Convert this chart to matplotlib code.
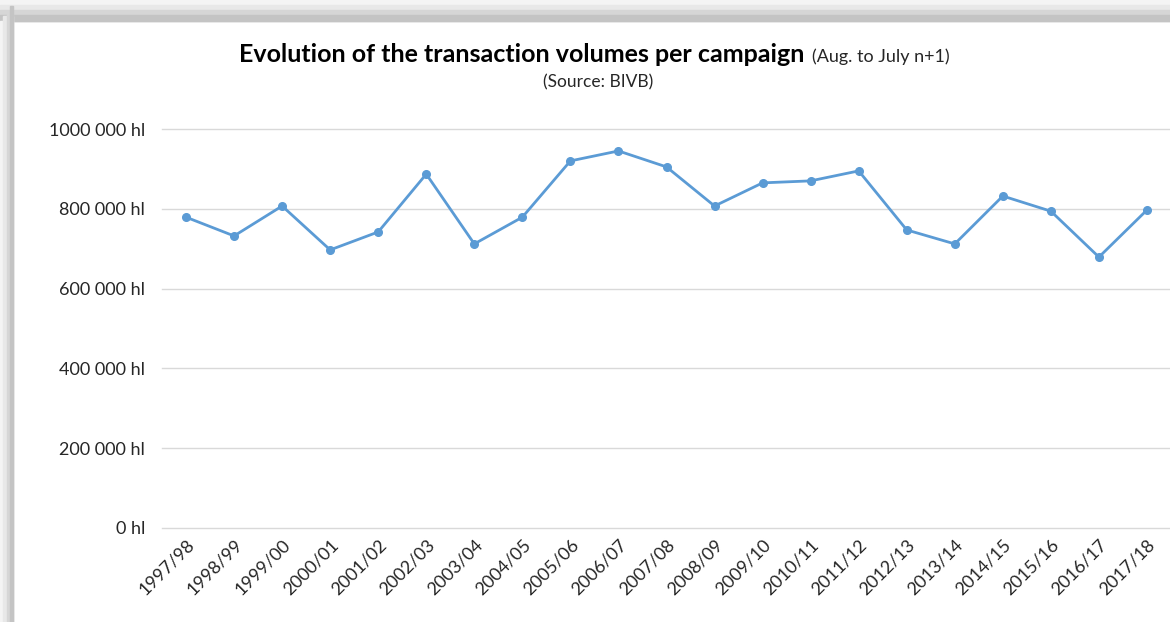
import numpy as np
import matplotlib.pyplot as plt
from matplotlib.patches import Rectangle
from matplotlib.ticker import FuncFormatter

# ----------------------------------------------------------------------------------
# Data
# ----------------------------------------------------------------------------------
campaigns = ['1997/98', '1998/99', '1999/00', '2000/01', '2001/02', '2002/03',
             '2003/04', '2004/05', '2005/06', '2006/07', '2007/08', '2008/09',
             '2009/10', '2010/11', '2011/12', '2012/13', '2013/14', '2014/15',
             '2015/16', '2016/17', '2017/18']
volumes_hl = [779000, 732000, 807000, 697000, 742000, 887000,
              712000, 779000, 920000, 945000, 905000, 807000,
              865000, 870000, 895000, 747000, 712000, 832000,
              794000, 679000, 797000]
y_ticks = [0, 200000, 400000, 600000, 800000, 1000000]

plt.rcParams['font.family'] = ['Lato', 'DejaVu Sans']

fig = plt.figure(figsize=(11.7, 6.22), dpi=100)
W, H = 1170, 622

# grey shadow frame on top and left
shades = ['#f4f4f4', '#e8e8e8', '#d6d6d6', '#c4c4c4']
for i, c in enumerate(shades):
    fig.patches.append(Rectangle((0, (H - 21) / H), 1, (21 - i * 5) / H,
                                 transform=fig.transFigure, color=c, zorder=0))
for i, c in enumerate(shades):
    fig.patches.append(Rectangle((i * 3.3 / W, 0), (13 - i * 3.3) / W,
                                 (H - 21 + i * 5) / H,
                                 transform=fig.transFigure, color=c, zorder=0))

ax = fig.add_axes([162 / W, (H - 528) / H, 1009 / W, 399 / H])
ax.set_facecolor('none')
x = np.arange(len(campaigns))
ax.plot(x, volumes_hl, color='#5b9bd5', linewidth=2, marker='o',
        markersize=5.5, zorder=3, clip_on=False)

ax.set_xlim(-0.5, len(campaigns) - 0.5)
ax.set_ylim(0, 1000000)
ax.set_yticks(y_ticks)


def fmt(v, pos):
    if v == 0:
        return '0 hl'
    s = '{:,.0f}'.format(v).replace(',', ' ')
    if v >= 1000000:
        s = s.replace(' ', '', 1)
    return s + ' hl'


ax.yaxis.set_major_formatter(FuncFormatter(fmt))
# gridlines drawn by hand so the 0 line is not clipped at the axes edge
for yt in y_ticks:
    ax.axhline(yt, color='#d9d9d9', linewidth=1, zorder=1, clip_on=False)
for sp in ax.spines.values():
    sp.set_visible(False)
ax.tick_params(length=0, labelsize=13, colors='#262626')
ax.tick_params(axis='y', pad=12)
ax.set_xticks(x)
ax.set_xticklabels(campaigns, rotation=45, ha='right', rotation_mode='anchor')
ax.tick_params(axis='x', pad=6)

fig.text(239 / W, 1 - 55 / H, 'Evolution of the transaction volumes per campaign',
         fontsize=18, fontweight='bold', ha='left', va='center', color='black')
fig.text(812 / W, 1 - 57 / H, '(Aug. to July n+1)', fontsize=13,
         ha='left', va='center', color='#262626')
fig.text(598 / W, 1 - 82 / H, '(Source: BIVB)', fontsize=12.5,
         ha='center', va='center', color='#262626')

fig.savefig('out.png', dpi=100)
